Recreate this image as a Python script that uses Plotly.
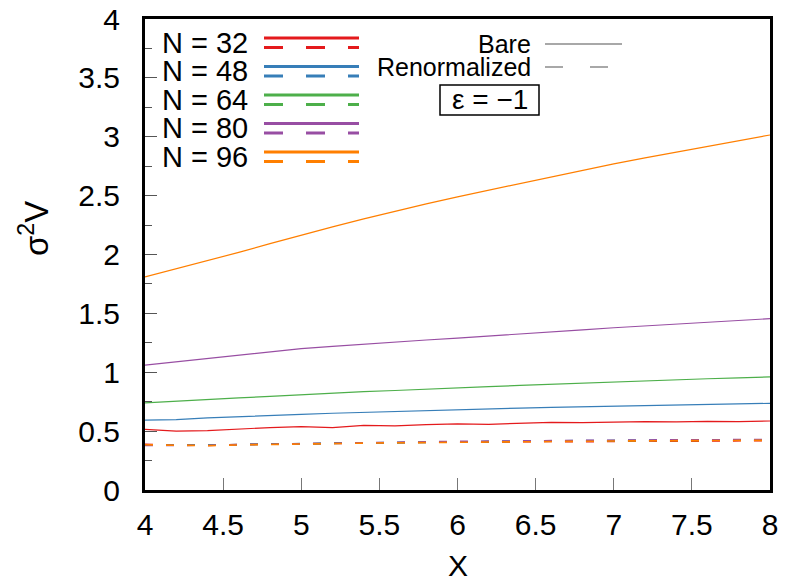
import plotly.graph_objects as go

# Fugacity grid (X) and sigma^2 V for each lattice size N
x_vals = [4.0, 4.2, 4.4, 4.6, 4.8, 5.0, 5.2, 5.4, 5.6, 5.8, 6.0,
          6.2, 6.4, 6.6, 6.8, 7.0, 7.2, 7.4, 7.6, 7.8, 8.0]

sizes = [32, 48, 64, 80, 96]
colors = ["#e41a1c", "#377eb8", "#4daf4a", "#984ea3", "#ff7f00"]

bare_32 = [0.515, 0.500, 0.505, 0.520, 0.530, 0.538, 0.530, 0.548, 0.545, 0.555, 0.562,
           0.558, 0.568, 0.575, 0.572, 0.578, 0.580, 0.578, 0.583, 0.580, 0.586]
bare_48 = [0.594, 0.598, 0.612, 0.624, 0.632, 0.643, 0.652, 0.660, 0.668, 0.678, 0.685,
           0.690, 0.696, 0.702, 0.707, 0.713, 0.718, 0.722, 0.727, 0.732, 0.736]
bare_64 = [0.740, 0.752, 0.770, 0.782, 0.795, 0.810, 0.822, 0.835, 0.845, 0.858, 0.870,
           0.878, 0.888, 0.898, 0.910, 0.920, 0.928, 0.937, 0.945, 0.952, 0.960]
bare_80 = [1.060, 1.088, 1.118, 1.146, 1.174, 1.200, 1.220, 1.240, 1.258, 1.274, 1.290,
           1.306, 1.324, 1.341, 1.360, 1.378, 1.394, 1.410, 1.425, 1.440, 1.455]
bare_96 = [1.810, 1.878, 1.946, 2.018, 2.092, 2.165, 2.235, 2.302, 2.368, 2.430, 2.490,
           2.547, 2.603, 2.658, 2.714, 2.770, 2.820, 2.868, 2.915, 2.963, 3.015]

renorm_32 = [0.388, 0.380, 0.378, 0.386, 0.390, 0.394, 0.392, 0.398, 0.400, 0.404, 0.408,
             0.406, 0.410, 0.412, 0.410, 0.414, 0.416, 0.414, 0.418, 0.417, 0.420]
renorm_48 = [0.382, 0.380, 0.382, 0.386, 0.392, 0.395, 0.398, 0.400, 0.404, 0.408, 0.412,
             0.414, 0.416, 0.418, 0.420, 0.421, 0.422, 0.423, 0.424, 0.425, 0.426]
renorm_64 = [0.380, 0.378, 0.381, 0.385, 0.390, 0.393, 0.396, 0.399, 0.402, 0.406, 0.410,
             0.412, 0.414, 0.416, 0.418, 0.419, 0.420, 0.421, 0.422, 0.423, 0.424]
renorm_80 = [0.378, 0.376, 0.380, 0.385, 0.390, 0.394, 0.398, 0.401, 0.405, 0.409, 0.413,
             0.416, 0.418, 0.420, 0.422, 0.423, 0.425, 0.426, 0.427, 0.428, 0.429]
renorm_96 = [0.384, 0.378, 0.376, 0.383, 0.388, 0.392, 0.395, 0.398, 0.401, 0.404, 0.407,
             0.409, 0.411, 0.413, 0.414, 0.416, 0.418, 0.419, 0.420, 0.421, 0.422]

bare = [bare_32, bare_48, bare_64, bare_80, bare_96]
renorm = [renorm_32, renorm_48, renorm_64, renorm_80, renorm_96]

x_ticks = [4, 4.5, 5, 5.5, 6, 6.5, 7, 7.5, 8]
x_tick_text = ["4", "4.5", "5", "5.5", "6", "6.5", "7", "7.5", "8"]
y_ticks = [0, 0.5, 1, 1.5, 2, 2.5, 3, 3.5, 4]
y_tick_text = ["0", "0.5", "1", "1.5", "2", "2.5", "3", "3.5", "4"]

FONT = "Liberation Sans, Arial, sans-serif"
W, H = 786, 583
L, R, T, B = 145, 16, 19, 93
PW, PH = W - L - R, H - T - B


def px(xp):
    return (xp - L) / PW


def py(yp):
    return (H - B - yp) / PH


fig = go.Figure()
for n, c, yb, yr in zip(sizes, colors, bare, renorm):
    fig.add_trace(go.Scatter(x=x_vals, y=yb, mode="lines", name=f"N = {n}",
                             line=dict(color=c, width=1.2), showlegend=False))
    fig.add_trace(go.Scatter(x=x_vals, y=yr, mode="lines", name=f"N = {n} renorm.",
                             line=dict(color=c, width=1.6, dash="8px,13px"),
                             showlegend=False))

shapes = []
annotations = []

# Key for lattice sizes: solid (bare) and dashed (renormalized) samples
row_centers = [43, 71.5, 100, 128.5, 157]
for n, c, yc in zip(sizes, colors, row_centers):
    annotations.append(dict(x=px(160), y=py(yc), xref="paper", yref="paper",
                            text=f"N = {n}", showarrow=False, xanchor="left",
                            yanchor="middle", font=dict(family=FONT, size=29, color="black")))
    shapes.append(dict(type="line", xref="paper", yref="paper",
                       x0=px(264), x1=px(359), y0=py(yc - 5), y1=py(yc - 5),
                       line=dict(color=c, width=2.8)))
    shapes.append(dict(type="line", xref="paper", yref="paper",
                       x0=px(264), x1=px(359), y0=py(yc + 4.5), y1=py(yc + 4.5),
                       line=dict(color=c, width=2.8, dash="19px,23px")))

# Key for line styles
for label, yc, dash in [("Bare", 44, "solid"), ("Renormalized", 67, "18px,27px")]:
    annotations.append(dict(x=px(533), y=py(yc), xref="paper", yref="paper",
                            text=label, showarrow=False, xanchor="right",
                            yanchor="middle", font=dict(family=FONT, size=25, color="black")))
    shapes.append(dict(type="line", xref="paper", yref="paper",
                       x0=px(545), x1=px(622), y0=py(yc), y1=py(yc),
                       line=dict(color="#a8a8a8", width=2.2, dash=dash)))

# Boxed coupling label
shapes.append(dict(type="rect", xref="paper", yref="paper",
                   x0=px(440), x1=px(539), y0=py(115), y1=py(85),
                   line=dict(color="black", width=1.5), fillcolor="white"))
annotations.append(dict(x=px(489.5), y=py(100), xref="paper", yref="paper",
                        text="ε = −1", showarrow=False, xanchor="center", yanchor="middle",
                        font=dict(family=FONT, size=28, color="black")))

# Axis titles
annotations.append(dict(x=px(34), y=py(229), xref="paper", yref="paper",
                        text="σ<sup>2</sup>V", showarrow=False, textangle=-90,
                        xanchor="center", yanchor="middle",
                        font=dict(family=FONT, size=33, color="black")))
annotations.append(dict(x=px(458), y=py(565), xref="paper", yref="paper",
                        text="X", showarrow=False, xanchor="center", yanchor="middle",
                        font=dict(family=FONT, size=30, color="black")))

fig.update_layout(
    width=W, height=H,
    margin=dict(l=L, r=R, t=T, b=B, pad=0),
    paper_bgcolor="white", plot_bgcolor="white",
    font=dict(family=FONT, size=30, color="black"),
    shapes=shapes, annotations=annotations,
    xaxis=dict(range=[4, 8], tickvals=x_ticks, ticktext=x_tick_text,
               automargin=False, showgrid=False, zeroline=False,
               showline=True, linecolor="black", linewidth=3, mirror=True,
               ticks="inside", ticklen=12, tickwidth=1.3, tickcolor="#777",
               ticklabelstandoff=6,
               tickfont=dict(family=FONT, size=30, color="black")),
    yaxis=dict(range=[0, 4], tickvals=y_ticks, ticktext=y_tick_text,
               automargin=False, showgrid=False, zeroline=False,
               showline=True, linecolor="black", linewidth=3, mirror=True,
               ticks="inside", ticklen=12, tickwidth=1.3, tickcolor="#555",
               minor=dict(tickvals=[0.25, 0.75, 1.25, 1.75, 2.25, 2.75, 3.25, 3.75],
                          ticks="inside", ticklen=7, tickwidth=1.3, tickcolor="#555",
                          showgrid=False),
               ticklabelstandoff=16,
               tickfont=dict(family=FONT, size=30, color="black")),
)

fig.write_html("out.html")
